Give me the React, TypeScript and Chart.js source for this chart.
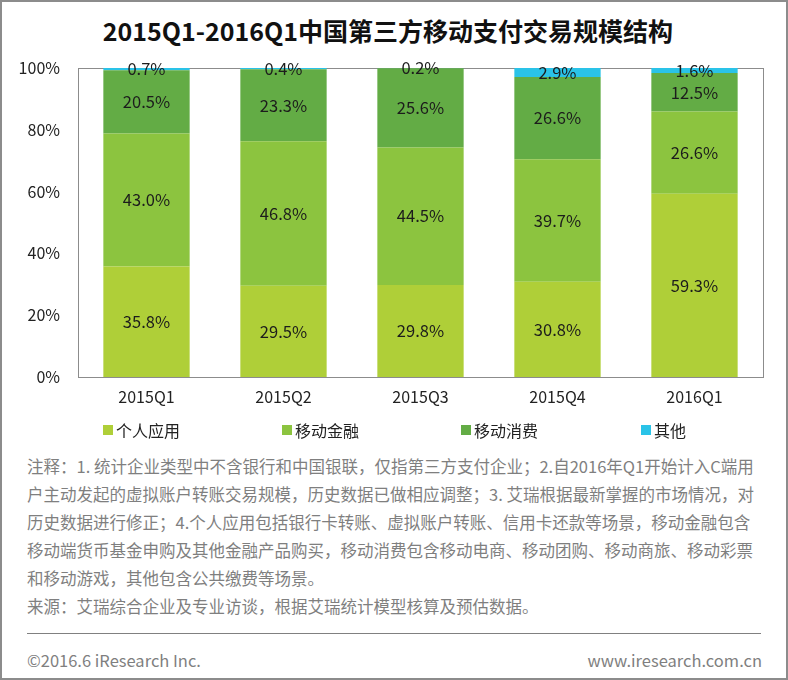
import React, { useEffect, useRef } from "react";
import { Chart, registerables } from "chart.js";

Chart.register(...registerables);

const title = "2015Q1-2016Q1中国第三方移动支付交易规模结构";
const categories = ["2015Q1", "2015Q2", "2015Q3", "2015Q4", "2016Q1"];
const seriesNames = ["个人应用", "移动金融", "移动消费", "其他"];
const personalApp = [35.8, 29.5, 29.8, 30.8, 59.3];
const mobileFinance = [43.0, 46.8, 44.5, 39.7, 26.6];
const mobileConsumption = [20.5, 23.3, 25.6, 26.6, 12.5];
const others = [0.7, 0.4, 0.2, 2.9, 1.6];
const seriesColors = ["#AFCF38", "#8CC43F", "#63AC45", "#2AC3E8"];
const yTickValues = [0, 20, 40, 60, 80, 100];
const noteLines = [
  "注释：1. 统计企业类型中不含银行和中国银联，仅指第三方支付企业；2.自2016年Q1开始计入C端用",
  "户主动发起的虚拟账户转账交易规模，历史数据已做相应调整；3. 艾瑞根据最新掌握的市场情况，对",
  "历史数据进行修正；4.个人应用包括银行卡转账、虚拟账户转账、信用卡还款等场景，移动金融包含",
  "移动端货币基金申购及其他金融产品购买，移动消费包含移动电商、移动团购、移动商旅、移动彩票",
  "和移动游戏，其他包含公共缴费等场景。",
  "来源：艾瑞综合企业及专业访谈，根据艾瑞统计模型核算及预估数据。",
];
const footerLeft = "©2016.6 iResearch Inc.";
const footerRight = "www.iresearch.com.cn";

const FONT = "'Noto Sans CJK SC', 'Noto Sans', sans-serif";

const framePlugin = {
  id: "frame",
  beforeDatasetsDraw(chart: any) {
    const { ctx, chartArea } = chart;
    ctx.save();
    ctx.strokeStyle = "#8c8c8c";
    ctx.lineWidth = 1;
    ctx.strokeRect(
      Math.round(chartArea.left) + 0.5,
      Math.round(chartArea.top) + 0.5,
      Math.round(chartArea.right - chartArea.left),
      Math.round(chartArea.bottom - chartArea.top)
    );
    ctx.restore();
  },
};

const labelPlugin = {
  id: "barLabels",
  afterDatasetsDraw(chart: any) {
    const { ctx } = chart;
    ctx.save();
    ctx.font = `16.5px ${FONT}`;
    ctx.fillStyle = "#1c1c1c";
    ctx.textAlign = "center";
    ctx.textBaseline = "middle";
    chart.data.datasets.forEach((ds: any, di: number) => {
      const meta = chart.getDatasetMeta(di);
      meta.data.forEach((el: any, i: number) => {
        const v = ds.data[i] as number;
        const y = (el.y + el.base) / 2;
        ctx.fillText(v.toFixed(1) + "%", el.x, y);
      });
    });
    ctx.restore();
  },
};

function ChartCanvas() {
  const ref = useRef<HTMLCanvasElement | null>(null);
  useEffect(() => {
    if (!ref.current) return;
    const seriesData = [personalApp, mobileFinance, mobileConsumption, others];
    const chart = new Chart(ref.current, {
      type: "bar",
      data: {
        labels: categories,
        datasets: seriesNames.map((name, i) => ({
          label: name,
          data: seriesData[i],
          backgroundColor: seriesColors[i],
          borderWidth: 0,
          barPercentage: 0.63,
          categoryPercentage: 1,
        })),
      },
      options: {
        responsive: false,
        animation: false,
        events: [],
        layout: { padding: { top: 68, right: 25, left: 0, bottom: 0 } },
        plugins: {
          legend: { display: false },
          title: { display: false },
          tooltip: { enabled: false },
        },
        scales: {
          x: {
            stacked: true,
            grid: { display: false, drawTicks: false },
            border: { display: false },
            ticks: {
              color: "#222",
              font: { family: FONT, size: 16 },
              padding: 10,
            },
            afterFit(scale: any) {
              scale.height = 43;
            },
          },
          y: {
            stacked: true,
            min: 0,
            max: 100,
            grid: { display: false, drawTicks: false },
            border: { display: false },
            afterBuildTicks(scale: any) {
              scale.ticks = yTickValues.map((v) => ({ value: v }));
            },
            ticks: {
              color: "#222",
              font: { family: FONT, size: 16 },
              padding: 18,
              callback: (v: any) => v + "%",
            },
            afterFit(scale: any) {
              scale.width = 78;
            },
          },
        },
      },
      plugins: [framePlugin, labelPlugin],
    });
    return () => chart.destroy();
  }, []);
  return (
    <canvas
      ref={ref}
      width={788}
      height={420}
      style={{ position: "absolute", left: 0, top: 0, width: 788, height: 420 }}
    />
  );
}

export default function App() {
  const legendLefts = [103, 282, 461, 641];
  return (
    <div
      style={{
        position: "absolute",
        left: 0,
        top: 0,
        width: 788,
        height: 680,
        background: "#fff",
        overflow: "hidden",
        fontFamily: FONT,
      }}
    >
      <div
        style={{
          position: "absolute",
          left: 0,
          top: 12,
          width: 776,
          textAlign: "center",
          fontSize: 25,
          fontWeight: 700,
          lineHeight: "36px",
          color: "#111",
          whiteSpace: "nowrap",
        }}
      >
        {title}
      </div>
      <ChartCanvas />
      {seriesNames.map((name, i) => (
        <div
          key={name}
          style={{
            position: "absolute",
            left: legendLefts[i],
            top: 420,
            height: 20,
            display: "flex",
            alignItems: "center",
            fontSize: 16,
            lineHeight: "20px",
            color: "#222",
            whiteSpace: "nowrap",
          }}
        >
          <span
            style={{
              display: "inline-block",
              width: 10,
              height: 10,
              background: seriesColors[i],
              marginRight: 3,
            }}
          />
          {name}
        </div>
      ))}
      <div
        style={{
          position: "absolute",
          left: 27,
          top: 452,
          fontSize: 16.5,
          lineHeight: "28px",
          color: "#7f7f7f",
        }}
      >
        {noteLines.map((l, i) => (
          <div key={i} style={{ whiteSpace: "nowrap" }}>
            {l}
          </div>
        ))}
      </div>
      <div
        style={{
          position: "absolute",
          left: 27,
          top: 633,
          width: 734,
          height: 1,
          background: "#808080",
        }}
      />
      <div
        style={{
          position: "absolute",
          left: 27,
          top: 650,
          fontSize: 16.5,
          lineHeight: "20px",
          color: "#7f7f7f",
          whiteSpace: "nowrap",
        }}
      >
        {footerLeft}
      </div>
      <div
        style={{
          position: "absolute",
          right: 26,
          top: 650,
          fontSize: 16.5,
          lineHeight: "20px",
          color: "#7f7f7f",
          whiteSpace: "nowrap",
        }}
      >
        {footerRight}
      </div>
      <div
        style={{
          position: "absolute",
          left: 0,
          top: 0,
          width: 788,
          height: 680,
          boxSizing: "border-box",
          border: "2px solid #8c8c8c",
          pointerEvents: "none",
        }}
      />
    </div>
  );
}
